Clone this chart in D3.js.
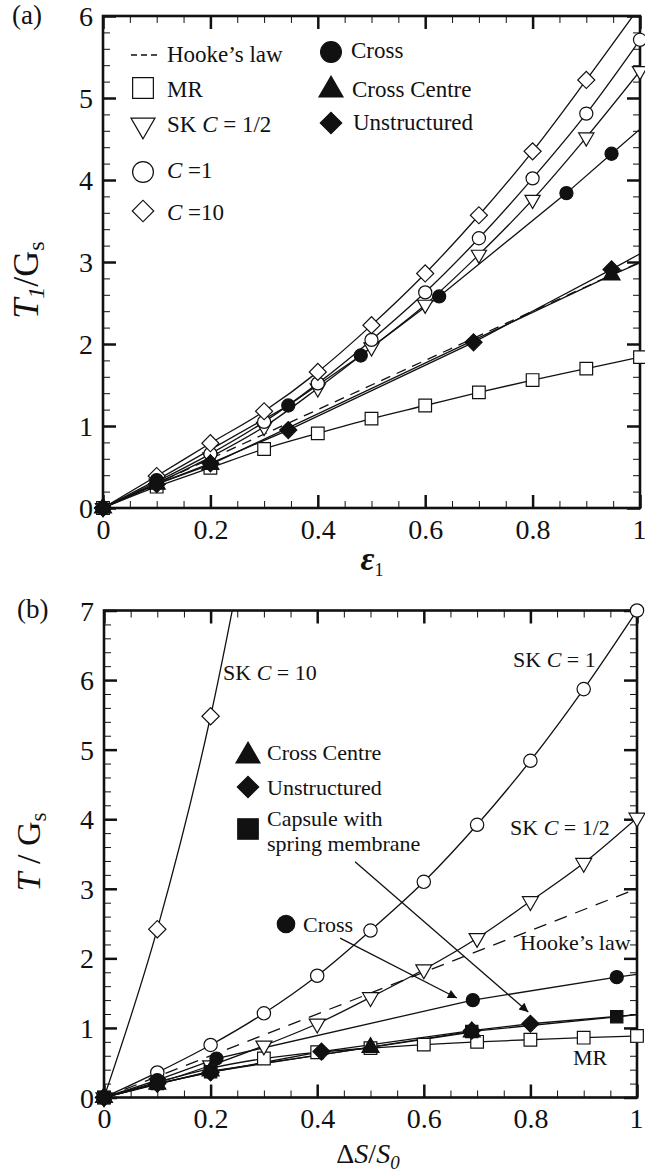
<!DOCTYPE html>
<html><head><meta charset="utf-8">
<script src="https://cdn.jsdelivr.net/npm/d3@7"></script>
<style>
body{margin:0;background:#fff}
svg{display:block}
text{font-family:"Liberation Serif","Times New Roman",serif;fill:#111}
</style>
</head><body>
<svg id="c" width="645" height="1174"></svg>
<script>
// ---------- DATA ----------
const strain = [0, 0.1, 0.2, 0.3, 0.4, 0.5, 0.6, 0.7, 0.8, 0.9, 1.0];
// panel (a): T1/Gs vs eps1
const aMR     = [0, 0.26, 0.49, 0.72, 0.91, 1.09, 1.25, 1.41, 1.56, 1.70, 1.84];
const aSKhalf = [0, 0.30, 0.62, 0.99, 1.46, 1.96, 2.48, 3.09, 3.76, 4.52, 5.33];
const aSK1    = [0, 0.32, 0.66, 1.05, 1.52, 2.05, 2.63, 3.29, 4.02, 4.81, 5.71];
const aSK10   = [0, 0.39, 0.79, 1.18, 1.66, 2.23, 2.86, 3.57, 4.35, 5.22, 6.12];
const aHookeX = [0, 1], aHookeY = [0, 3];
const aCrossX = [0, 0.1, 0.345, 0.48, 0.626, 0.863, 0.947];
const aCrossY = [0, 0.34, 1.25, 1.86, 2.58, 3.84, 4.32];
const aCrossEnd = [1.0, 4.62];
const aUnstrX = [0, 0.1, 0.2, 0.345, 0.69, 0.947];
const aUnstrY = [0, 0.29, 0.545, 0.95, 2.02, 2.91];
const aUnstrEnd = [1.0, 3.10];
const aCentreX = [0, 0.1, 0.2, 0.947];
const aCentreY = [0, 0.29, 0.53, 2.84];
const aCentreEnd = [1.0, 2.99];
// panel (b): T/Gs vs dS/S0
const bMR     = [0, 0.22, 0.42, 0.56, 0.65, 0.71, 0.76, 0.80, 0.83, 0.86, 0.885];
const bSKhalf = [0, 0.21, 0.46, 0.745, 1.06, 1.44, 1.84, 2.29, 2.82, 3.37, 4.02];
const bSK1    = [0, 0.36, 0.755, 1.21, 1.75, 2.40, 3.10, 3.92, 4.84, 5.87, 7.0];
const bSK10X  = [0, 0.1, 0.2, 0.3];
const bSK10Y  = [0, 2.42, 5.48, 9.4];
const bHookeX = [0, 1], bHookeY = [0, 3];
const bCrossX = [0, 0.1, 0.211, 0.692, 0.962];
const bCrossY = [0, 0.25, 0.56, 1.40, 1.73];
const bCrossEnd = [1.0, 1.77];
const bUnstrX = [0, 0.1, 0.2, 0.408, 0.69, 0.8];
const bUnstrY = [0, 0.2, 0.36, 0.66, 0.96, 1.06];
const bUnstrEnd = [1.0, 1.19];
const bCentreX = [0, 0.1, 0.2, 0.5, 0.69];
const bCentreY = [0, 0.19, 0.38, 0.72, 0.94];
const bCapsX = [0, 0.1, 0.2, 0.69, 0.962];
const bCapsY = [0, 0.2, 0.37, 0.95, 1.16];
const bCapsEnd = [1.0, 1.19];
// arrows in panel (b): [x0,y0,x1,y1] in data units
const bArrowCross = [0.443, 2.29, 0.662, 1.43];
const bArrowCaps  = [0.471, 3.39, 0.796, 1.23];
// ticks
const xMajor = [0, 0.2, 0.4, 0.6, 0.8, 1];
const aYMajor = [0, 1, 2, 3, 4, 5, 6];
const bYMajor = [0, 1, 2, 3, 4, 5, 6, 7];

// ---------- DRAW ----------
const svg = d3.select('#c');
const INK = '#111';
const fmt = d => String(+d.toFixed(1));
const zip = (xs, ys) => xs.map((x, i) => [x, ys[i]]);

svg.append('defs').append('marker')
  .attr('id', 'ah').attr('viewBox', '0 0 10 10').attr('refX', 10).attr('refY', 5)
  .attr('markerWidth', 12).attr('markerHeight', 9).attr('markerUnits', 'userSpaceOnUse')
  .attr('orient', 'auto')
  .append('path').attr('d', 'M0,0L10,5L0,10z').attr('fill', INK);

function symPath(kind, size) {
  if (kind === 'circle') return d3.symbol(d3.symbolCircle, size)();
  if (kind === 'square' || kind === 'diamond') return d3.symbol(d3.symbolSquare, size)();
  return d3.symbol(d3.symbolTriangle, size)();
}
function drawSym(g, kind, filled, size, cx, cy) {
  let rot = 0;
  if (kind === 'diamond') rot = 45;
  if (kind === 'tridown') rot = 180;
  g.append('path').attr('d', symPath(kind, size))
    .attr('transform', `translate(${cx},${cy}) rotate(${rot})`)
    .attr('fill', filled ? INK : '#fff').attr('stroke', INK).attr('stroke-width', 1.2);
}

function panel(opt) {
  const x = d3.scaleLinear([0, 1], opt.xr);
  const y = d3.scaleLinear([0, opt.ymax], opt.yr);
  const g = svg.append('g');
  const id = 'clip' + opt.name;
  svg.select('defs').append('clipPath').attr('id', id).append('rect')
    .attr('x', opt.xr[0]).attr('y', opt.yr[1]).attr('width', opt.xr[1] - opt.xr[0]).attr('height', opt.yr[0] - opt.yr[1]);

  const xMinor = d3.range(0, 1.0001, 0.05).filter(v => Math.abs(v * 5 - Math.round(v * 5)) > 1e-6);
  const yMinor = d3.range(0, opt.ymax + 0.0001, 0.2).filter(v => Math.abs(v - Math.round(v)) > 1e-6);

  const styleAxis = (sel, w) => { sel.select('.domain').remove(); sel.selectAll('line').attr('stroke', INK).attr('stroke-width', w); };
  // minor ticks
  g.append('g').attr('transform', `translate(0,${opt.yr[0]})`).call(d3.axisBottom(x).tickValues(xMinor).tickSize(-7).tickFormat('')).call(s => styleAxis(s, 1));
  g.append('g').attr('transform', `translate(0,${opt.yr[1]})`).call(d3.axisTop(x).tickValues(xMinor).tickSize(-7).tickFormat('')).call(s => styleAxis(s, 1));
  g.append('g').attr('transform', `translate(${opt.xr[0]},0)`).call(d3.axisLeft(y).tickValues(yMinor).tickSize(-7).tickFormat('')).call(s => styleAxis(s, 1));
  g.append('g').attr('transform', `translate(${opt.xr[1]},0)`).call(d3.axisRight(y).tickValues(yMinor).tickSize(-7).tickFormat('')).call(s => styleAxis(s, 1));
  // major ticks
  const xb = g.append('g').attr('transform', `translate(0,${opt.yr[0]})`).call(d3.axisBottom(x).tickValues(xMajor).tickSize(-13).tickPadding(11).tickFormat(fmt)).call(s => styleAxis(s, 2.5));
  g.append('g').attr('transform', `translate(0,${opt.yr[1]})`).call(d3.axisTop(x).tickValues(xMajor).tickSize(-13).tickFormat('')).call(s => styleAxis(s, 2.5));
  const yl = g.append('g').attr('transform', `translate(${opt.xr[0]},0)`).call(d3.axisLeft(y).tickValues(opt.yMajor).tickSize(-13).tickPadding(10).tickFormat(fmt)).call(s => styleAxis(s, 2.5));
  g.append('g').attr('transform', `translate(${opt.xr[1]},0)`).call(d3.axisRight(y).tickValues(opt.yMajor).tickSize(-13).tickFormat('')).call(s => styleAxis(s, 2.5));
  [xb, yl].forEach(s => s.selectAll('text').attr('font-family', '"Liberation Serif",serif').attr('font-size', 28).attr('fill', INK));
  yl.selectAll('text').attr('dy', '0.34em');
  // keep the last x label inside the page
  xb.selectAll('text').filter(d => d === 1).attr('text-anchor', 'end').attr('dx', 6);

  g.append('rect').attr('x', opt.xr[0]).attr('y', opt.yr[1]).attr('width', opt.xr[1] - opt.xr[0]).attr('height', opt.yr[0] - opt.yr[1])
    .attr('fill', 'none').attr('stroke', INK).attr('stroke-width', 2.6);

  const plot = g.append('g').attr('clip-path', `url(#${id})`);
  const marks = g.append('g');
  return { x, y, g, plot, marks, ymax: opt.ymax };
}

function drawLine(P, pts, curve, dash, w) {
  P.plot.append('path').datum(pts)
    .attr('d', d3.line().x(d => P.x(d[0])).y(d => P.y(d[1])).curve(curve || d3.curveMonotoneX))
    .attr('fill', 'none').attr('stroke', INK).attr('stroke-width', w || 1.3)
    .attr('stroke-dasharray', dash || null);
}
function drawMarks(P, pts, kind, filled, size) {
  pts.filter(d => d[1] <= P.ymax && d[0] <= 1).forEach(d => drawSym(P.marks, kind, filled, size, P.x(d[0]), P.y(d[1])));
}

// ===== Panel (a) =====
const A = panel({ name: 'a', xr: [103, 640], yr: [508, 16], ymax: 6, yMajor: aYMajor });
drawLine(A, zip(aHookeX, aHookeY), d3.curveLinear, '10,7', 1.3);
drawLine(A, zip(strain, aMR));
drawLine(A, zip(strain, aSKhalf));
drawLine(A, zip(strain, aSK1));
drawLine(A, zip(strain, aSK10));
drawLine(A, zip(aCrossX, aCrossY).concat([aCrossEnd]), d3.curveLinear);
drawLine(A, zip(aUnstrX, aUnstrY).concat([aUnstrEnd]), d3.curveLinear);
drawLine(A, zip(aCentreX, aCentreY).concat([aCentreEnd]), d3.curveLinear);
drawMarks(A, zip(strain, aMR), 'square', false, 160);
drawMarks(A, zip(strain, aSKhalf), 'tridown', false, 100);
drawMarks(A, zip(strain, aSK1), 'circle', false, 135);
drawMarks(A, zip(strain, aSK10), 'diamond', false, 145);
drawMarks(A, zip(aCrossX, aCrossY), 'circle', true, 135);
drawMarks(A, zip(aCentreX, aCentreY), 'triangle', true, 125);
drawMarks(A, zip(aUnstrX, aUnstrY), 'diamond', true, 145);

// legend (a)
const LA = A.g.append('g');
LA.append('line').attr('x1', 131).attr('x2', 158).attr('y1', 55).attr('y2', 55).attr('stroke', INK).attr('stroke-width', 1.3).attr('stroke-dasharray', '6,4');
drawSym(LA, 'square', false, 430, 143, 88);
drawSym(LA, 'tridown', false, 250, 143, 125);
drawSym(LA, 'circle', false, 340, 143, 172);
drawSym(LA, 'diamond', false, 230, 143, 211);
drawSym(LA, 'circle', true, 340, 331, 52);
drawSym(LA, 'triangle', true, 250, 331, 90);
drawSym(LA, 'diamond', true, 230, 331, 123);
const ltA = (x, y, parts) => {
  const t = LA.append('text').attr('x', x).attr('y', y).attr('font-size', 23);
  parts.forEach(p => t.append('tspan').attr('font-style', p[1] ? 'italic' : null).text(p[0]));
};
ltA(167, 62, [['Hooke\u2019s law']]);
ltA(167, 97, [['MR']]);
ltA(167, 132, [['SK '], ['C', 1], [' = 1/2']]);
ltA(167, 178, [['C', 1], [' =1']]);
ltA(167, 220, [['C', 1], [' =10']]);
ltA(351, 58, [['Cross']]);
ltA(352, 97, [['Cross Centre']]);
ltA(353, 130, [['Unstructured']]);

// titles (a)
svg.append('text').attr('x', 12).attr('y', 24).attr('font-size', 27).text('(a)');
{
  const t = svg.append('text').attr('transform', 'translate(38,280) rotate(-90)').attr('text-anchor', 'middle').attr('font-size', 36);
  t.append('tspan').attr('font-style', 'italic').text('T');
  t.append('tspan').attr('font-style', 'italic').attr('font-size', 24).attr('dy', 6).text('1');
  t.append('tspan').attr('dy', -6).text('/G');
  t.append('tspan').attr('font-size', 24).attr('dy', 6).text('s');
}
{
  const t = svg.append('text').attr('x', 372).attr('y', 570).attr('text-anchor', 'middle').attr('font-size', 34);
  t.append('tspan').attr('font-style', 'italic').attr('font-weight', 'bold').text('\u03b5');
  t.append('tspan').attr('font-size', 18).attr('dy', 6).text('1');
}

// ===== Panel (b) =====
const B = panel({ name: 'b', xr: [104, 637], yr: [1097.5, 610.5], ymax: 7, yMajor: bYMajor });
drawLine(B, zip(bHookeX, bHookeY), d3.curveLinear, '13,9', 1.3);
drawLine(B, zip(strain, bMR));
drawLine(B, zip(strain, bSKhalf));
drawLine(B, zip(strain, bSK1));
drawLine(B, zip(bSK10X, bSK10Y));
drawLine(B, zip(bCrossX, bCrossY).concat([bCrossEnd]), d3.curveLinear);
drawLine(B, zip(bUnstrX, bUnstrY).concat([bUnstrEnd]), d3.curveLinear);
drawLine(B, zip(bCentreX, bCentreY), d3.curveLinear);
drawLine(B, zip(bCapsX, bCapsY).concat([bCapsEnd]), d3.curveLinear);
drawMarks(B, zip(strain, bMR), 'square', false, 160);
drawMarks(B, zip(strain, bSKhalf), 'tridown', false, 110);
drawMarks(B, zip(strain, bSK1), 'circle', false, 140);
drawMarks(B, zip(bSK10X, bSK10Y), 'diamond', false, 150);
drawMarks(B, zip(bCrossX, bCrossY), 'circle', true, 135);
drawMarks(B, zip(bCentreX, bCentreY), 'triangle', true, 125);
drawMarks(B, zip(bCapsX, bCapsY), 'square', true, 150);
drawMarks(B, zip(bUnstrX, bUnstrY), 'diamond', true, 145);

[bArrowCross, bArrowCaps].forEach(a => {
  B.g.append('line').attr('x1', B.x(a[0])).attr('y1', B.y(a[1])).attr('x2', B.x(a[2])).attr('y2', B.y(a[3]))
    .attr('stroke', INK).attr('stroke-width', 1.3).attr('marker-end', 'url(#ah)');
});

const LB = B.g.append('g');
drawSym(LB, 'triangle', true, 250, 248, 756);
drawSym(LB, 'diamond', true, 230, 248, 787);
drawSym(LB, 'square', true, 420, 248, 829);
drawSym(LB, 'circle', true, 240, 286, 924);
const ltB = (x, y, parts, fs) => {
  const t = LB.append('text').attr('x', x).attr('y', y).attr('font-size', fs || 22);
  parts.forEach(p => t.append('tspan').attr('font-style', p[1] ? 'italic' : null).text(p[0]));
};
ltB(267, 760, [['Cross Centre']]);
ltB(267, 795, [['Unstructured']]);
ltB(267, 826, [['Capsule with']]);
ltB(267, 851, [['spring membrane']]);
ltB(303, 932, [['Cross']]);
ltB(223, 680, [['SK '], ['C', 1], [' = 10']]);
ltB(513, 667, [['SK '], ['C', 1], [' = 1']]);
ltB(510, 835, [['SK '], ['C', 1], [' = 1/2']]);
ltB(520, 950, [['Hooke\u2019s law']]);
ltB(573, 1065, [['MR']]);

svg.append('text').attr('x', 17).attr('y', 618).attr('font-size', 27).text('(b)');
{
  const t = svg.append('text').attr('transform', 'translate(40,852) rotate(-90)').attr('text-anchor', 'middle').attr('font-size', 34);
  t.append('tspan').attr('font-style', 'italic').text('T');
  t.append('tspan').text(' / G');
  t.append('tspan').attr('font-size', 23).attr('dy', 6).text('s');
}
{
  const t = svg.append('text').attr('x', 368).attr('y', 1163).attr('text-anchor', 'middle').attr('font-size', 28);
  t.append('tspan').text('\u0394');
  t.append('tspan').attr('font-style', 'italic').text('S');
  t.append('tspan').text('/');
  t.append('tspan').attr('font-style', 'italic').text('S');
  t.append('tspan').attr('font-style', 'italic').attr('font-size', 19).attr('dy', 6).text('0');
}
</script>
</body></html>
